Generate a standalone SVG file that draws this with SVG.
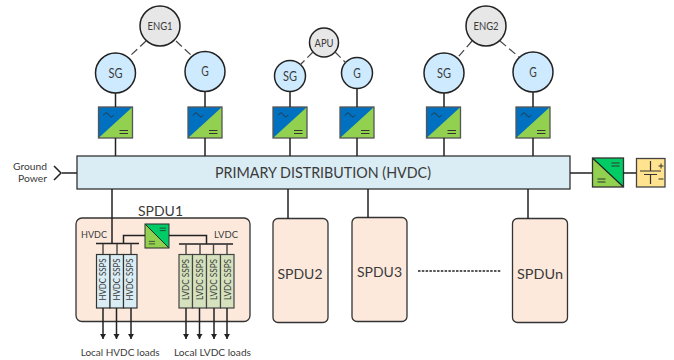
<svg xmlns="http://www.w3.org/2000/svg" width="674" height="360" viewBox="0 0 674 360">
<style>
text{font-family:"Lato","Carlito","Liberation Sans",sans-serif;fill:#3a3a3a;text-anchor:middle}
.c{stroke:#222;stroke-width:1.5;fill:none}
.e{fill:#e7e7e7;stroke:#222;stroke-width:1.5}
.g{fill:#cdeaff;stroke:#222;stroke-width:1.5}
.w{stroke:#444;stroke-width:1.4;fill:none}
.d{stroke:#444;stroke-width:1.2;stroke-dasharray:8 4;fill:none}
.p{fill:#fce9dc;stroke:#333;stroke-width:1.3}
.h{fill:#daedf4;stroke:#333;stroke-width:1.2}
.l{fill:#d5e2bd;stroke:#444;stroke-width:1.2}
.s{font-size:8.5px}
.n{font-size:11px}
.t{font-size:13px}
.m{stroke:#333;stroke-width:1;fill:none}
</style>
<defs>
<marker id="a" markerWidth="6" markerHeight="7" refX="5" refY="3" orient="auto" markerUnits="userSpaceOnUse"><path d="M0 0L5 3L0 6Z" fill="#222"/></marker>
<g id="ac">
<rect x="0" y="0" width="34" height="31" fill="#92d050"/>
<path d="M0 0H34L0 31Z" fill="#0070c0"/>
<rect x="0" y="0" width="34" height="31" fill="none" stroke="#555" stroke-width="1.3"/>
<path d="M5 8.500C7 5 9 5.500 10.500 8S13.500 10.500 15 8" class="m"/>
<path d="M21 23.500H29.500M21 26.500H29.500" class="m"/>
</g>
<g id="dc">
<rect x="0" y="0" width="31" height="29" fill="#92d050"/>
<path d="M0 0H31V29Z" fill="#00cc66"/>
<path d="M0 0L31 29" stroke="#222" stroke-width="1.200"/>
<rect x="0" y="0" width="31" height="29" fill="none" stroke="#333" stroke-width="1.300"/>
<path d="M19 5H27M19 8H27M5 21H13M5 24H13" class="m"/>
</g>
</defs>
<g id="eng1"><circle class="e" cx="160" cy="26" r="20"/><text class="n" x="160" y="30" textLength="25" lengthAdjust="spacingAndGlyphs">ENG1</text></g>
<g id="sg1"><circle class="g" cx="115.500" cy="73" r="20"/><text class="t" x="115.500" y="77.500" textLength="14" lengthAdjust="spacingAndGlyphs">SG</text></g>
<g id="g1"><circle class="g" cx="205" cy="71.500" r="20"/><text class="t" x="205" y="76" textLength="7.500" lengthAdjust="spacingAndGlyphs">G</text></g>
<g id="apu"><circle class="e" cx="324" cy="42.500" r="14.500"/><text class="n" x="324" y="46.500" textLength="19" lengthAdjust="spacingAndGlyphs">APU</text></g>
<g id="sg2"><circle class="g" cx="290" cy="76" r="15.500"/><text class="t" x="290" y="80.500" textLength="14" lengthAdjust="spacingAndGlyphs">SG</text></g>
<g id="g2"><circle class="g" cx="357" cy="73" r="15.500"/><text class="t" x="357" y="77.500" textLength="7.500" lengthAdjust="spacingAndGlyphs">G</text></g>
<g id="eng2"><circle class="e" cx="486" cy="26" r="20"/><text class="n" x="486" y="30" textLength="25" lengthAdjust="spacingAndGlyphs">ENG2</text></g>
<g id="sg3"><circle class="g" cx="444" cy="73" r="20"/><text class="t" x="444" y="77.500" textLength="14" lengthAdjust="spacingAndGlyphs">SG</text></g>
<g id="g3"><circle class="g" cx="533" cy="72" r="20"/><text class="t" x="533" y="76.500" textLength="7.500" lengthAdjust="spacingAndGlyphs">G</text></g>
<g id="conv1"><use href="#ac" x="98.500" y="107"/></g>
<g id="conv2"><use href="#ac" x="188" y="107"/></g>
<g id="conv3"><use href="#ac" x="273" y="107"/></g>
<g id="conv4"><use href="#ac" x="340" y="107"/></g>
<g id="conv5"><use href="#ac" x="426.500" y="107"/></g>
<g id="conv6"><use href="#ac" x="516" y="107"/></g>
<g id="ground"><text x="30" y="170" style="font-size:10px" textLength="34" lengthAdjust="spacingAndGlyphs">Ground</text><text x="32.500" y="182" style="font-size:10px" textLength="29" lengthAdjust="spacingAndGlyphs">Power</text></g>
<g id="bus"><rect x="77" y="156" width="493" height="33" fill="#daedf4" stroke="#333" stroke-width="1.300"/><text x="323" y="178" style="font-size:15px" textLength="216" lengthAdjust="spacingAndGlyphs">PRIMARY DISTRIBUTION (HVDC)</text></g>
<g id="dcdc"><use href="#dc" x="592.500" y="158"/></g>
<g id="battery"><rect x="636.500" y="158.500" width="28.500" height="28.500" fill="#ffe38f" stroke="#444" stroke-width="1.300"/><path d="M650.500 161V171M640 171H661M644 174.500H657M650.500 174.500V184" class="m" style="stroke-width:1.200"/><path d="M658.500 166H663.500M661 163.500V168.500M658.500 179H663.500" class="m"/></g>
<g id="spdu1">
<rect class="p" x="76" y="218" width="174" height="103.500" rx="6"/>
<text x="160.500" y="215.500" style="font-size:14px" textLength="45" lengthAdjust="spacingAndGlyphs">SPDU1</text>
<text x="94" y="238" style="font-size:10px" textLength="26" lengthAdjust="spacingAndGlyphs">HVDC</text>
<text x="226" y="238" style="font-size:10px" textLength="24" lengthAdjust="spacingAndGlyphs">LVDC</text>
<use href="#dc" transform="translate(145,224) scale(.774,.828)"/>
<g id="hv1"><rect class="h" x="96.500" y="254.500" width="13.500" height="53.500"/><text class="s" transform="translate(106,279.500) rotate(-90)" textLength="42" lengthAdjust="spacingAndGlyphs">HVDC SSPS</text></g>
<g id="hv2"><rect class="h" x="110" y="254.500" width="13.500" height="53.500"/><text class="s" transform="translate(119.500,279.500) rotate(-90)" textLength="42" lengthAdjust="spacingAndGlyphs">HVDC SSPS</text></g>
<g id="hv3"><rect class="h" x="123.500" y="254.500" width="13.500" height="53.500"/><text class="s" transform="translate(133,279.500) rotate(-90)" textLength="42" lengthAdjust="spacingAndGlyphs">HVDC SSPS</text></g>
<g id="lv1"><rect class="l" x="179" y="254.500" width="13.500" height="53.500"/><text class="s" transform="translate(189,279.500) rotate(-90)" textLength="41" lengthAdjust="spacingAndGlyphs">LVDC SSPS</text></g>
<g id="lv2"><rect class="l" x="192.500" y="254.500" width="14" height="53.500"/><text class="s" transform="translate(203,279.500) rotate(-90)" textLength="41" lengthAdjust="spacingAndGlyphs">LVDC SSPS</text></g>
<g id="lv3"><rect class="l" x="206.500" y="254.500" width="14" height="53.500"/><text class="s" transform="translate(217,279.500) rotate(-90)" textLength="41" lengthAdjust="spacingAndGlyphs">LVDC SSPS</text></g>
<g id="lv4"><rect class="l" x="220.500" y="254.500" width="13.500" height="53.500"/><text class="s" transform="translate(230.500,279.500) rotate(-90)" textLength="41" lengthAdjust="spacingAndGlyphs">LVDC SSPS</text></g>
</g>
<g id="loads"><text x="120.200" y="355.500" style="font-size:10px" textLength="79" lengthAdjust="spacingAndGlyphs">Local HVDC loads</text><text x="212.500" y="355.500" style="font-size:10px" textLength="77" lengthAdjust="spacingAndGlyphs">Local LVDC loads</text></g>
<g id="spdu2"><rect class="p" x="273" y="218.500" width="55" height="104" rx="5"/><text x="300" y="278.500" style="font-size:14px" textLength="45" lengthAdjust="spacingAndGlyphs">SPDU2</text></g>
<g id="spdu3"><rect class="p" x="352" y="217.500" width="55" height="104" rx="5"/><text x="379.500" y="277" style="font-size:14px" textLength="45" lengthAdjust="spacingAndGlyphs">SPDU3</text></g>
<g id="spdun"><rect class="p" x="512.500" y="218.500" width="55" height="104" rx="5"/><text x="540" y="278.500" style="font-size:14px" textLength="46" lengthAdjust="spacingAndGlyphs">SPDUn</text></g>
<g id="connectors">
<path class="d" d="M146 41L130 56M176 41L192 56"/>
<path class="d" d="M313 52L300 65M335 52L346 63"/>
<path class="d" d="M472 41L458 57M500 41L519 57"/>
<path class="c" d="M115.500 93V107M115.500 138V156M205 92V107M205 138V156M290 91.500V107M290 138V156M357 88.500V107M357 138V156M444 93V107M444 138V156M533 92V107M533 138V156"/>
<path class="c" d="M62 173H77M54 166L61 173L54 180"/>
<path class="c" d="M570 173H592M623 173H636"/>
<path class="c" d="M112 189V244M288 189V218.500M368 189V217.500M528 189V218.500"/>
<path class="c" stroke-dasharray="2.500 1.300" d="M418 271H501"/>
<path class="c" d="M96 243.500H139M179 244H233M123.500 243.500V235.500H145M169 235.500H206.500V244"/>
<path class="w" d="M103 244V254M117 244V254M131 244V254M186 244V254M200 244V254M213.500 244V254M227 244V254"/>
<g marker-end="url(#a)"><path class="c" d="M103 308V339"/><path class="c" d="M116.500 308V339"/><path class="c" d="M131 308V339"/><path class="c" d="M186 308V339"/><path class="c" d="M199.500 308V339"/><path class="c" d="M214 308V339"/><path class="c" d="M227 308V339"/></g>
</g>
</svg>
